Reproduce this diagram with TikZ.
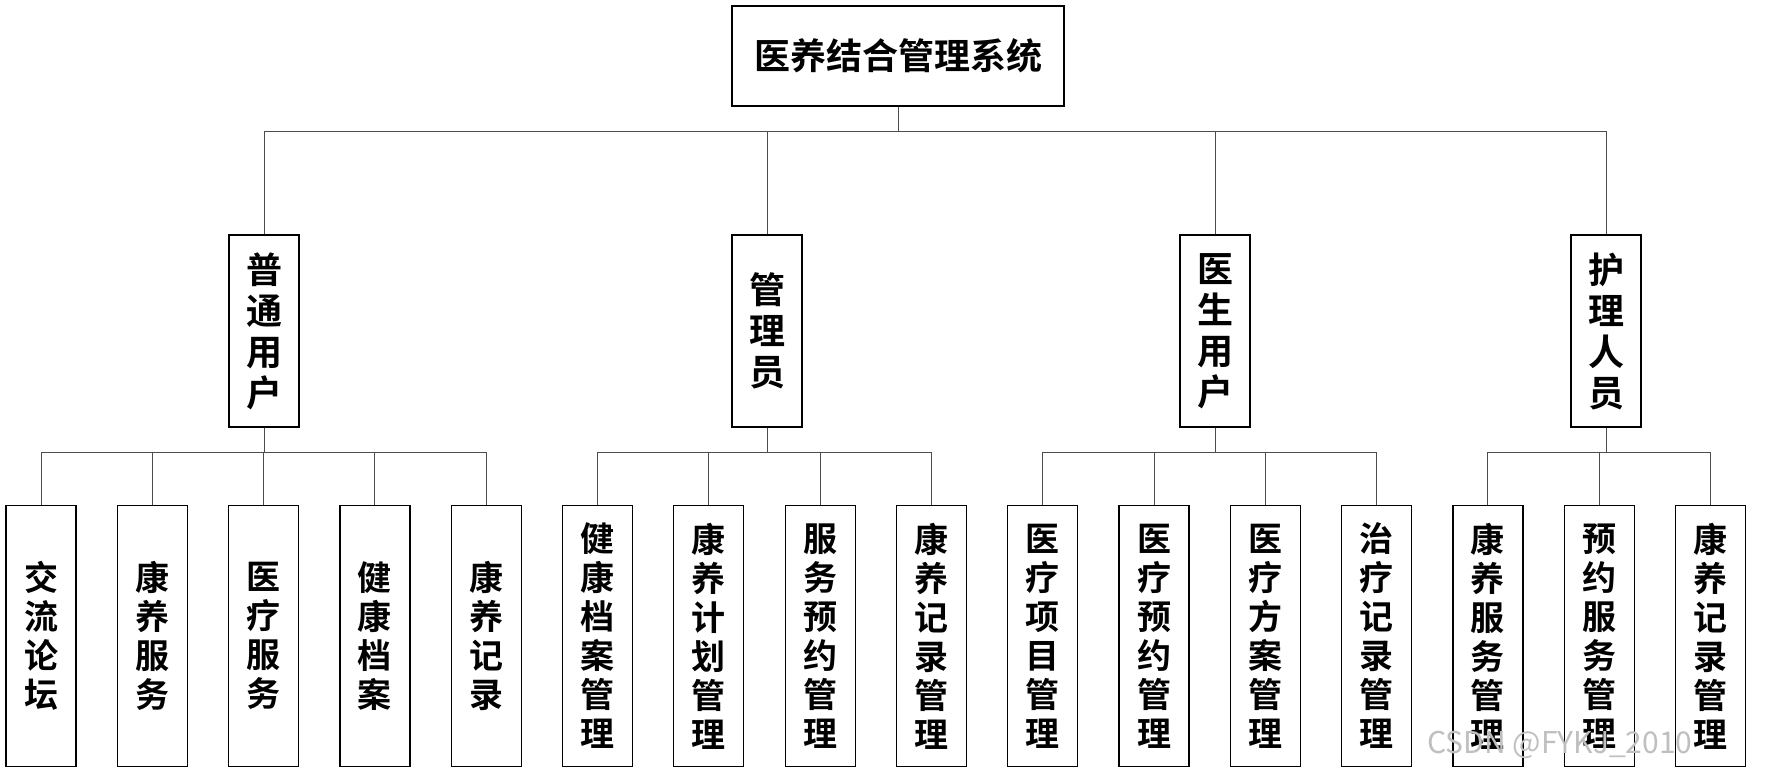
\documentclass[tikz,border=0pt]{standalone}
\usepackage{fontspec}
\setmainfont{Noto Sans CJK SC}[BoldFont={Noto Sans CJK SC Bold}]
\usetikzlibrary{positioning}
\tikzset{
    root/.style={rectangle, draw=black, line width=1.2pt, minimum width=332pt, minimum height=100pt, font=\fontsize{36}{39}\selectfont\bfseries},
    role/.style={rectangle, draw=black, line width=1.2pt, minimum width=70pt, minimum height=192pt, align=center, font=\fontsize{36}{41}\selectfont\bfseries},
    leaf/.style={rectangle, draw=black, line width=1.2pt, minimum width=70pt, minimum height=261pt, align=center, font=\fontsize{34}{39}\selectfont\bfseries},
    link/.style={draw=black!70, line width=1pt},
}
\begin{document}
\begin{tikzpicture}[x=1pt, y=-1pt]
    \useasboundingbox (0,0) rectangle (1770,770);

    \node [root] (sys) at (898,56) {医养结合管理系统};

    \node [role] (u1) at (264,331) {普\\通\\用\\户};
    \node [role] (u2) at (767,331) {管\\理\\员};
    \node [role] (u3) at (1215,331) {医\\生\\用\\户};
    \node [role] (u4) at (1606,331) {护\\理\\人\\员};

    \foreach \i/\t in {0/交\\流\\论\\坛, 1/康\\养\\服\\务, 2/医\\疗\\服\\务, 3/健\\康\\档\\案, 4/康\\养\\记\\录,
        5/健\\康\\档\\案\\管\\理, 6/康\\养\\计\\划\\管\\理, 7/服\\务\\预\\约\\管\\理, 8/康\\养\\记\\录\\管\\理,
        9/医\\疗\\项\\目\\管\\理, 10/医\\疗\\预\\约\\管\\理, 11/医\\疗\\方\\案\\管\\理, 12/治\\疗\\记\\录\\管\\理,
        13/康\\养\\服\\务\\管\\理, 14/预\\约\\服\\务\\管\\理, 15/康\\养\\记\\录\\管\\理}
        \node [leaf] (l\i) at ({41+111.3*\i},636) {\t};

    % top level
    \foreach \r in {u1,u2,u3,u4}
        \draw [link] (sys.south) -- (sys.south |- 0,132) -| (\r.north);

    % leaves
    \foreach \r/\a/\b in {u1/0/4, u2/5/8, u3/9/12, u4/13/15} {
        \foreach \i in {\a,...,\b}
            \draw [link] (\r.south) -- (\r.south |- 0,452) -| (l\i.north);
    }

    \node [text=black!25, font=\fontsize{30}{30}\selectfont] (mark) at (1560,745) {CSDN @FYKJ\_2010};
\end{tikzpicture}
\end{document}
